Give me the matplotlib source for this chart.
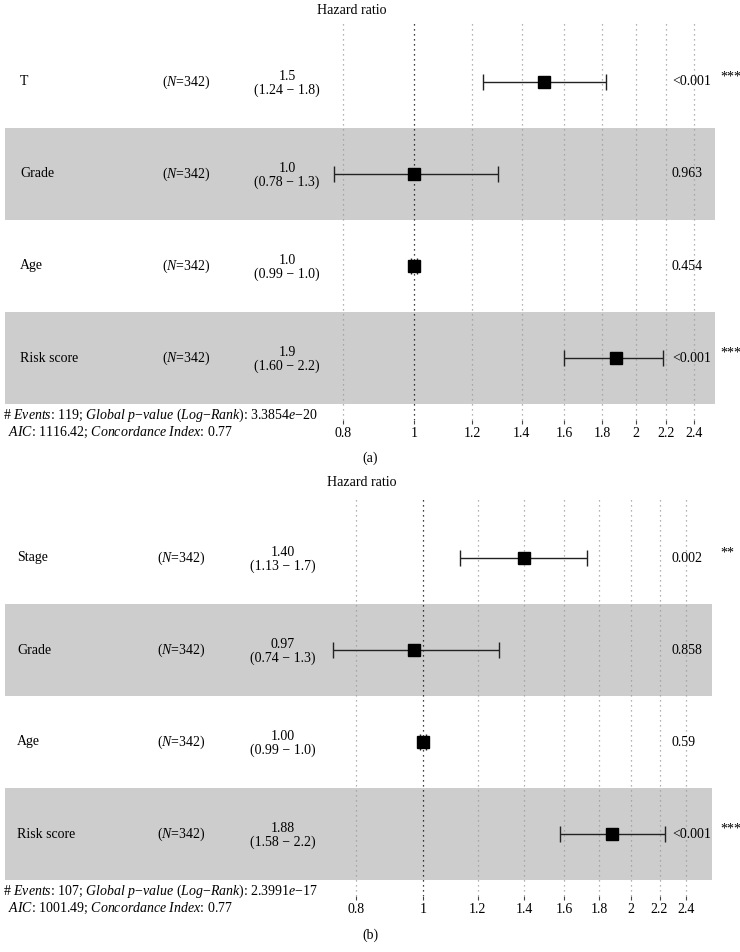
import numpy as np
import matplotlib
matplotlib.use("Agg")
import matplotlib.pyplot as plt
import matplotlib.transforms as mtransforms

plt.rcParams["font.family"] = ["Liberation Serif", "DejaVu Serif"]
plt.rcParams["mathtext.fontset"] = "custom"
plt.rcParams["mathtext.rm"] = "Liberation Serif"
plt.rcParams["mathtext.it"] = "Liberation Serif:italic"

# panel (a)
vars_a = ["T", "Grade", "Age", "Risk score"]
n_a = [342, 342, 342, 342]
hr_a = [1.50, 1.00, 1.00, 1.88]
lo_a = [1.24, 0.78, 0.99, 1.60]
hi_a = [1.82, 1.30, 1.01, 2.18]
hr_lab_a = ["1.5", "1.0", "1.0", "1.9"]
ci_lab_a = ["(1.24 − 1.8)", "(0.78 − 1.3)", "(0.99 − 1.0)", "(1.60 − 2.2)"]
p_lab_a = ["<0.001", "0.963", "0.454", "<0.001"]
star_a = ["***", "", "", "***"]
foot_a = ["# $\\it{Events}$: 119; $\\it{Global\\ p}$−$\\it{value}$ ($\\it{Log}$−$\\it{Rank}$): 3.3854$\\it{e}$−20",
          "$\\it{AIC}$: 1116.42; $\\it{Concordance\\ Index}$: 0.77"]

# panel (b)
vars_b = ["Stage", "Grade", "Age", "Risk score"]
n_b = [342, 342, 342, 342]
hr_b = [1.40, 0.97, 1.00, 1.88]
lo_b = [1.13, 0.74, 0.99, 1.58]
hi_b = [1.73, 1.29, 1.01, 2.24]
hr_lab_b = ["1.40", "0.97", "1.00", "1.88"]
ci_lab_b = ["(1.13 − 1.7)", "(0.74 − 1.3)", "(0.99 − 1.0)", "(1.58 − 2.2)"]
p_lab_b = ["0.002", "0.858", "0.59", "<0.001"]
star_b = ["**", "", "", "***"]
foot_b = ["# $\\it{Events}$: 107; $\\it{Global\\ p}$−$\\it{value}$ ($\\it{Log}$−$\\it{Rank}$): 2.3991$\\it{e}$−17",
          "$\\it{AIC}$: 1001.49; $\\it{Concordance\\ Index}$: 0.77"]

ticks = [0.8, 1, 1.2, 1.4, 1.6, 1.8, 2, 2.2, 2.4]
tick_labels = ["0.8", "1", "1.2", "1.4", "1.6", "1.8", "2", "2.2", "2.4"]

W, H = 740, 952
fig = plt.figure(figsize=(W / 100, H / 100), dpi=100)


def forest(names, ns, hr, lo, hi, hr_lab, ci_lab, p_lab, stars, foot, tag,
           top_px, first_row_px, bottom_px, one_px, scale_px, band_right,
           title_x, title_px, cap_px, name_x, n_x, est_x):
    ax = fig.add_axes([0, 1 - bottom_px / H, 1, (bottom_px - top_px) / H])
    ax.set_xscale("log")
    ax.set_xlim(np.exp(-one_px / scale_px), np.exp((W - one_px) / scale_px))
    nrow = len(names)
    ys = np.arange(nrow, 0, -1)
    row_h = 92.0
    ax.set_ylim(1 - (bottom_px - (first_row_px + (nrow - 1) * row_h)) / row_h,
                nrow + (first_row_px - top_px) / row_h)
    for s in ax.spines.values():
        s.set_visible(False)

    # shaded rows
    for i, y in enumerate(ys):
        if i % 2 == 1:
            ax.axhspan(y - 0.5, y + 0.5, xmin=5 / W, xmax=band_right / W,
                       color="#cdcdcd", lw=0, zorder=0)

    for t in ticks:
        ax.axvline(t, color="black" if t == 1 else "#9a9a9a", ls=(0, (1, 3)),
                   lw=0.9, zorder=1)

    ax.errorbar(hr, ys, xerr=[np.array(hr) - np.array(lo), np.array(hi) - np.array(hr)],
                fmt="s", color="black", ms=8.5, ecolor="#222222", elinewidth=1.0,
                capsize=5.5, capthick=1.0, zorder=3)

    tr = mtransforms.blended_transform_factory(ax.transAxes, ax.transData)
    fs = 10
    for i, y in enumerate(ys):
        ax.text(name_x / W, y, names[i], transform=tr, ha="left", va="center", fontsize=fs)
        ax.text(n_x / W, y, f"($\\it{{N}}$={ns[i]})", transform=tr, ha="center",
                va="center", fontsize=fs)
        ax.text(est_x / W, y + 0.06, hr_lab[i], transform=tr, ha="center",
                va="center", fontsize=fs)
        ax.text(est_x / W, y - 0.09, ci_lab[i], transform=tr, ha="center",
                va="center", fontsize=fs)
        ax.text(672 / W, y, p_lab[i], transform=tr, ha="left", va="center", fontsize=fs)
        if stars[i]:
            ax.text(720 / W, y + 0.05, stars[i], transform=tr, ha="left",
                    va="center", fontsize=fs)

    ax.set_yticks([])
    ax.set_xticks(ticks)
    ax.set_xticklabels(tick_labels, fontsize=fs)
    ax.minorticks_off()
    ax.tick_params(axis="x", length=3, width=0.8, pad=2, color="#444444")

    fig.text(title_x / W, 1 - title_px / H, "Hazard ratio",
             ha="center", va="center", fontsize=fs)
    fig.text(3 / W, 1 - (bottom_px - 5) / H, foot[0], ha="left", va="center", fontsize=fs)
    fig.text(8 / W, 1 - (bottom_px + 12) / H, foot[1], ha="left", va="center", fontsize=fs)
    fig.text(370 / W, 1 - cap_px / H, tag, ha="center", va="center", fontsize=fs)
    return ax


forest(vars_a, n_a, hr_a, lo_a, hi_a, hr_lab_a, ci_lab_a, p_lab_a, star_a, foot_a, "(a)",
       top_px=22, first_row_px=82, bottom_px=420, one_px=414, scale_px=320,
       band_right=715, title_x=352, title_px=10, cap_px=458,
       name_x=20, n_x=186, est_x=287)
forest(vars_b, n_b, hr_b, lo_b, hi_b, hr_lab_b, ci_lab_b, p_lab_b, star_b, foot_b, "(b)",
       top_px=498, first_row_px=558, bottom_px=896, one_px=423, scale_px=300,
       band_right=712, title_x=362, title_px=482, cap_px=935,
       name_x=17, n_x=181, est_x=283)

fig.savefig("out.png", dpi=100)
